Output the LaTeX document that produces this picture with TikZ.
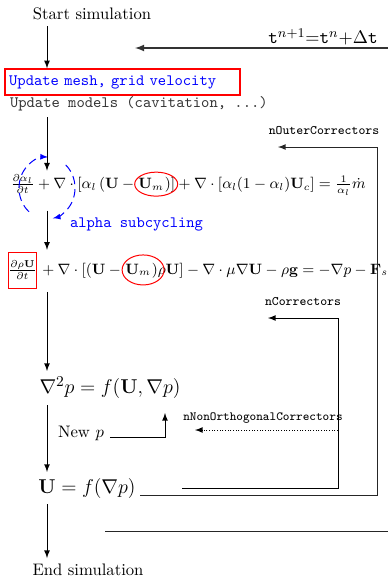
\documentclass[tikz,border=0pt]{standalone}
\usepackage{amssymb,amsmath}
\usetikzlibrary{shapes.geometric}

\tikzset{
  ttlabel/.style={font=\fontsize{9.5}{11}\selectfont\ttfamily},
  ttsmall/.style={font=\fontsize{7.8}{9}\selectfont\ttfamily},
  eqpart/.style={inner sep=0pt, font=\fontsize{9}{11}\selectfont},
  bigeq/.style={font=\fontsize{13}{15}\selectfont},
  loopline/.style={black!85},
}

\begin{document}
\begin{tikzpicture}[x=0.6pt, y=-0.6pt, >=latex]
\useasboundingbox (0,0) rectangle (388,579);
\begin{scope}[semithick]

  \coordinate (spine) at (47,0);

  % start and update steps
  \node (start) at (92,14) {Start simulation};
  \node[draw=red, thick, ttlabel, text=blue, text width=136pt, align=left,
        inner xsep=2.5pt, minimum height=15.6pt] (mesh) at (122.5,82)
        {Update mesh, grid velocity};
  \node[anchor=west, ttlabel, text=black!80] (models) at (4,104)
        {Update models (cavitation, ...)};

  \path[->] (start.south -| spine) edge (mesh.north -| spine);

  % time step
  \node[font=\fontsize{11}{13}\selectfont] (time) at (323,37)
        {$\mathtt{t}^{n+1}{=}\mathtt{t}^{n}{+}\Delta\mathtt{t}$};
  \coordinate (timein) at (388,48);
  \coordinate (timeout) at (135,48);
  \draw[->, line width=0.9pt, black!80] (timein) -- (timeout);

  % alpha equation
  \node[eqpart, anchor=west] (alphaA) at (10,184)
        {$\frac{\partial\alpha_l}{\partial t}+\nabla\cdot[\alpha_l\,(\mathbf{U}-{}$};
  \node[eqpart, anchor=base west] (um1) at (alphaA.base east) {$\mathbf{U}_m$};
  \node[eqpart, anchor=base west] (alphaB) at (um1.base east)
        {$)]+\nabla\cdot[\alpha_l(1-\alpha_l)\mathbf{U}_c]=\frac{1}{\alpha_l}\dot{m}$};
  \node[ellipse, draw=red, minimum width=25.8pt, minimum height=14.4pt] (um1ring)
        at ([xshift=3pt]um1.center) {};
  \draw[blue, dash pattern=on 5pt off 3pt, ->]
        (47,188) ++(130:28 and 31) arc[start angle=130, end angle=272, x radius=28, y radius=31];
  \draw[blue, dash pattern=on 5pt off 3pt, ->]
        (47,188) ++(-48:28 and 31) arc[start angle=-48, end angle=78, x radius=28, y radius=31];
  \node[anchor=west, ttlabel, text=blue] (subcycle) at (64,224) {alpha subcycling};

  \path[->] (models.south -| spine) edge ([yshift=2pt]alphaA.north -| spine);

  % momentum equation
  \node[draw=red, eqpart, minimum width=17.4pt, minimum height=21.6pt] (ddt)
        at (22.5,270) {$\frac{\partial\rho\mathbf{U}}{\partial t}$};
  \node[eqpart, anchor=base west] (momA) at ([xshift=0.5pt]ddt.base east)
        {$\mathord{}+\nabla\cdot[(\mathbf{U}-{}$};
  \node[eqpart, anchor=base west] (um2) at (momA.base east) {$\mathbf{U}_m$};
  \node[eqpart, anchor=base west] (momB) at (um2.base east)
        {$)\rho\mathbf{U}]-\nabla\cdot\mu\nabla\mathbf{U}-\rho\mathbf{g}=-\nabla p-\mathbf{F}_s$};
  \node[ellipse, draw=red, minimum width=25.2pt, minimum height=18pt] (um2ring)
        at ([xshift=3pt]um2.center) {};

  \path[->] ([yshift=-10pt]alphaA.south -| spine) edge ([yshift=1pt]ddt.north -| spine);

  % pressure equation
  \node[bigeq] (pressure) at (110,388) {$\nabla^2 p = f(\mathbf{U},\nabla p)$};
  \node (newp) at (81,433) {New $p$};
  \coordinate (newpturn) at (165,437);
  \coordinate (newpin) at (165,413);
  \draw[->] (newp.east |- newpturn) -- (newpturn) -- (newpin);

  \path[->] ([yshift=-2pt]ddt.south -| spine) edge (pressure.north -| spine);

  % velocity correction
  \node[bigeq] (velocity) at (87,488) {$\mathbf{U} = f(\nabla p)$};
  \path[->] (pressure.south -| spine) edge (velocity.north -| spine);

  % end
  \node (finish) at (88,570) {End simulation};
  \path[->] (velocity.south -| spine) edge (finish.north -| spine);

  % corrector loops
  \node[ttsmall, font=\fontsize{7.5}{9}\selectfont\ttfamily] (nonorth) at (263,418)
        {nNonOrthogonalCorrectors};
  \coordinate (nonorthin) at (338,430);
  \coordinate (nonorthout) at (195,430);
  \draw[->, densely dotted] (nonorthin) -- (nonorthout);

  \node[ttsmall] (ncorr) at (303,302) {nCorrectors};
  \coordinate (ncorrin) at (182,488);
  \coordinate (ncorrturn) at (338,318);
  \coordinate (ncorrout) at (268,318);
  \draw[->] (ncorrin) -| (ncorrturn) -- (ncorrout);

  \node[ttsmall] (nouter) at (324,131) {nOuterCorrectors};
  \coordinate (outerin) at (140,495);
  \coordinate (outerturn) at (377,147);
  \coordinate (outerout) at (278,147);
  \draw[->, loopline] (outerin) -| (outerturn) -- (outerout);

  % back to next time step
  \coordinate (nextin) at (105,531);
  \coordinate (nextout) at (388,531);
  \draw[loopline] (nextin) -- (nextout);

\end{scope}
\end{tikzpicture}
\end{document}
